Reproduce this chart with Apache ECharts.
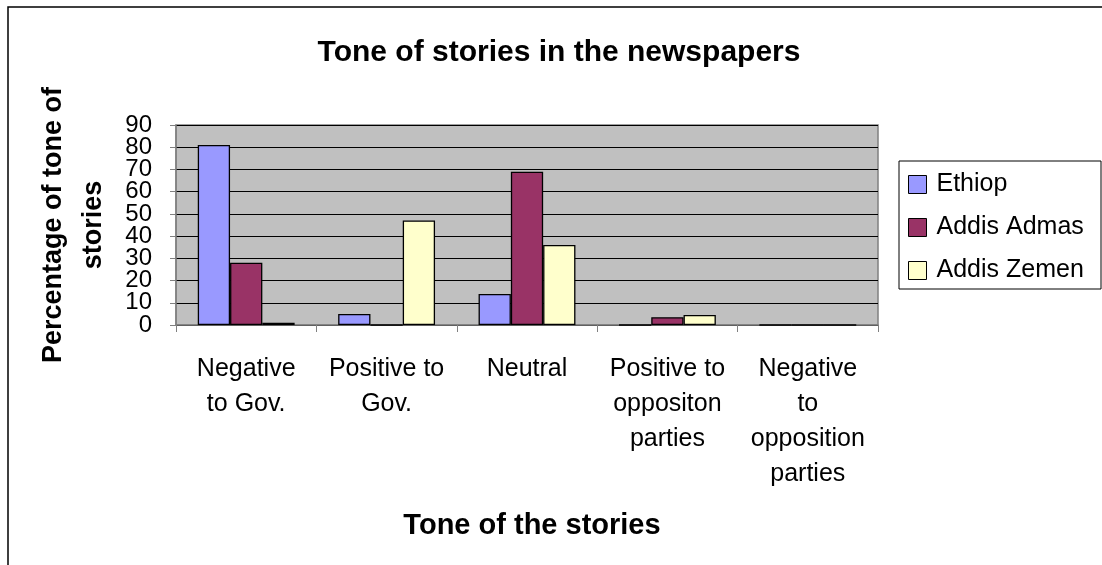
<!DOCTYPE html>
<html>
<head>
<meta charset="utf-8">
<script src="https://cdn.jsdelivr.net/npm/echarts@6/dist/echarts.min.js"></script>
<style>
html,body{margin:0;padding:0;background:#fff;}
#chart{width:1102px;height:565px;}
</style>
</head>
<body>
<div id="chart"></div>
<script>
const categories = ["Negative\nto Gov.", "Positive to\nGov.", "Neutral", "Positive to\noppositon\nparties", "Negative\nto\nopposition\nparties"];
const seriesNames = ["Ethiop", "Addis Admas", "Addis Zemen"];
const ethiop = [81, 5, 14, 0, 0];
const addisAdmas = [28, 0, 69, 3.5, 0];
const addisZemen = [1, 47, 36, 4.5, 0];
const yTicks = [0, 10, 20, 30, 40, 50, 60, 70, 80, 90];

const colors = ['#9999FF', '#993366', '#FFFFCC'];
const FONT = 'Liberation Sans, Arial, sans-serif';
const chart = echarts.init(document.getElementById('chart'));

const values = [ethiop, addisAdmas, addisZemen];
const series = seriesNames.map((n, i) => ({
  name: n,
  type: 'bar',
  data: values[i],
  barGap: '0%',
  barCategoryGap: '31%',
  itemStyle: { color: colors[i], borderColor: '#000', borderWidth: 1.3 }
}));

// tick labels split between two overlaid axes of identical scale so that the
// tightly packed labels are not culled as overlapping
const labelStyle = { fontFamily: FONT, fontSize: 24, color: '#000', margin: 24,
  showMinLabel: true, showMaxLabel: true, hideOverlap: false };
const yMin = yTicks[0], yMax = yTicks[yTicks.length - 1], yStep = yTicks[1] - yTicks[0];

chart.setOption({
  animation: false,
  textStyle: { fontFamily: FONT },
  title: {
    text: 'Tone of stories in the newspapers',
    left: 554, top: 33, textAlign: 'center',
    textStyle: { fontFamily: FONT, fontSize: 30, fontWeight: 'bold', color: '#000', lineHeight: 30 }
  },
  graphic: [{
    type: 'rect', shape: { x: 8, y: 7, width: 1200, height: 700 },
    style: { fill: 'none', stroke: '#000', lineWidth: 1.5 }, z: 0, silent: true
  }, {
    type: 'rect', shape: { x: 899, y: 161, width: 202, height: 128 },
    style: { fill: '#fff', stroke: '#000', lineWidth: 1 }, z: 1, silent: true
  }],
  legend: {
    orient: 'vertical', left: 908, top: 172, padding: 0,
    data: seriesNames,
    itemWidth: 18, itemHeight: 18, itemGap: 18,
    icon: 'rect',
    itemStyle: { borderColor: '#000', borderWidth: 1 },
    textStyle: { fontFamily: FONT, fontSize: 25, color: '#000', lineHeight: 25, padding: [0, 0, 0, 5] },
    z: 10
  },
  grid: {
    left: 176, top: 125, width: 702, height: 200,
    show: true, backgroundColor: '#C0C0C0', borderColor: '#808080', borderWidth: 1.5
  },
  xAxis: {
    type: 'category', data: categories,
    axisLine: { lineStyle: { color: '#808080', width: 1.5 } },
    axisTick: { show: true, length: 7, lineStyle: { color: '#808080' } },
    axisLabel: { fontFamily: FONT, fontSize: 25, color: '#000', lineHeight: 35, margin: 27, interval: 0 },
    name: 'Tone of the stories', nameLocation: 'middle', nameGap: 186,
    nameTextStyle: { fontFamily: FONT, fontSize: 29, fontWeight: 'bold', color: '#000', padding: [0, 0, 0, 10] }
  },
  yAxis: [{
    type: 'value', min: yMin, max: yMax, interval: yStep, position: 'left',
    axisLine: { show: true, lineStyle: { color: '#808080', width: 1.5 } },
    axisTick: { show: true, length: 6, lineStyle: { color: '#808080' } },
    axisLabel: Object.assign({}, labelStyle, {
      formatter: v => (yTicks.includes(v) && (v / yStep) % 2 === 0) ? String(v) : '' }),
    splitLine: { show: true, lineStyle: { color: '#000', width: 1 } },
    name: 'Percentage of tone of\nstories', nameLocation: 'middle', nameGap: 62, nameRotate: 90,
    nameTextStyle: { fontFamily: FONT, fontSize: 27, fontWeight: 'bold', color: '#000', lineHeight: 40, align: 'center' }
  }, {
    type: 'value', min: yMin, max: yMax, interval: yStep, position: 'left', offset: 0,
    axisLine: { show: false }, axisTick: { show: false }, splitLine: { show: false },
    axisLabel: Object.assign({}, labelStyle, {
      formatter: v => (yTicks.includes(v) && (v / yStep) % 2 === 1) ? String(v) : '' })
  }],
  series: series
});
</script>
</body>
</html>
